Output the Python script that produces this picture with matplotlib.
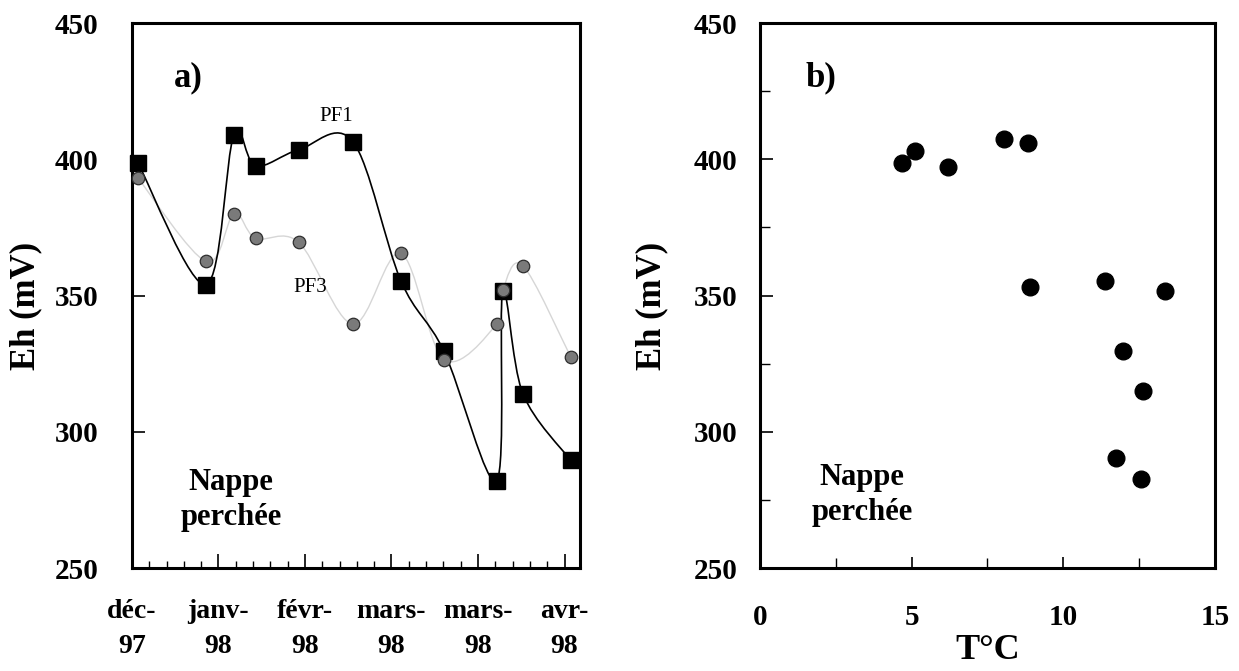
import matplotlib
matplotlib.use("Agg")
import matplotlib.pyplot as plt
from matplotlib.path import Path
from matplotlib.patches import PathPatch
from matplotlib.ticker import MultipleLocator
import numpy as np

# --- data ---
# days counted from the first axis tick (déc-97)
days = [2, 24, 33, 40, 54, 71.5, 87, 101, 118, 120, 126.5, 142]
eh_pf1 = [398.5, 354, 409, 397.5, 403.5, 406.5, 355.5, 329.5, 282, 351.5, 314, 289.5]
eh_pf3 = [393, 362.5, 380, 371, 369.5, 339.5, 365.5, 326.5, 339.5, 352, 361, 327.5]

date_ticks = [0, 28, 56, 84, 112, 140]
date_labels = ['déc-\n97', 'janv-\n98', 'févr-\n98', 'mars-\n98', 'mars-\n98', 'avr-\n98']

temp_c = [4.68, 5.11, 6.21, 8.06, 8.85, 8.89, 11.36, 11.96, 12.64, 13.34, 11.74, 12.55]
eh_nappe = [398.5, 403, 397, 407.5, 406, 353, 355.5, 329.5, 315, 351.5, 290.5, 282.5]

FONT = 'Liberation Serif'
plt.rcParams['font.family'] = [FONT, 'DejaVu Serif']
plt.rcParams['font.weight'] = 'bold'


def smooth_path(xs, ys):
    # bezier curve through the points, like a spreadsheet "smoothed line"
    pts = np.column_stack([xs, ys])
    n = len(pts)
    verts = [pts[0]]
    codes = [Path.MOVETO]
    for i in range(n - 1):
        p0 = pts[i - 1] if i > 0 else pts[i]
        p1 = pts[i]
        p2 = pts[i + 1]
        p3 = pts[i + 2] if i + 2 < n else pts[i + 1]
        c1 = p1 + (p2 - p0) / 6.0
        c2 = p2 - (p3 - p1) / 6.0
        verts += [c1, c2, p2]
        codes += [Path.CURVE4] * 3
    return Path(verts, codes)


def style_axes(ax, ypad):
    for sp in ax.spines.values():
        sp.set_linewidth(2.2)
    ax.set_ylim(250, 450)
    ax.yaxis.set_major_locator(MultipleLocator(50))
    ax.tick_params(axis='both', which='both', direction='in', width=1.2,
                   top=False, right=False)
    ax.tick_params(axis='y', which='major', length=9, pad=ypad, labelsize=21)
    for lab in ax.get_yticklabels():
        lab.set_fontweight('bold')


fig = plt.figure(figsize=(12.39, 6.71), dpi=100)

# ---------- a) ----------
ax1 = fig.add_axes([0.1065, 0.1535, 0.3616, 0.8122])
style_axes(ax1, 24)
ax1.set_xlim(0, 145)
ax1.set_xticks(date_ticks)
ax1.set_xticklabels(date_labels, fontsize=20, fontweight='bold', linespacing=1.55)
ax1.xaxis.set_minor_locator(MultipleLocator(5.6))
ax1.tick_params(axis='x', which='major', length=10, pad=22)
ax1.tick_params(axis='x', which='minor', length=5, width=1.0)

ax1.add_patch(PathPatch(smooth_path(days, eh_pf3), fill=False,
                        edgecolor='#d6d6d6', lw=1.0, zorder=2))
ax1.add_patch(PathPatch(smooth_path(days, eh_pf1), fill=False,
                        edgecolor='black', lw=1.2, zorder=3))
ax1.plot(days, eh_pf1, ls='none', marker='s', ms=12, color='black',
         zorder=4, clip_on=False)
ax1.plot(days, eh_pf3, ls='none', marker='o', ms=9, color='#7a7a7a',
         mec='#2e2e2e', mew=0.9, zorder=5, clip_on=False)

ax1.set_ylabel('Eh (mV)', fontsize=25, fontweight='bold')
ax1.yaxis.set_label_coords(-0.2, 0.48)
ax1.text(0.125, 0.90, 'a)', transform=ax1.transAxes, fontsize=25,
         fontweight='bold', ha='center', va='center')
ax1.text(0.455, 0.828, 'PF1', transform=ax1.transAxes, fontsize=15,
         fontweight='normal', ha='center', va='center')
ax1.text(0.397, 0.514, 'PF3', transform=ax1.transAxes, fontsize=15,
         fontweight='normal', ha='center', va='center')
ax1.text(0.221, 0.125, 'Nappe\nperchée', transform=ax1.transAxes, fontsize=22,
         fontweight='bold', ha='center', va='center', linespacing=1.3)

# ---------- b) ----------
ax2 = fig.add_axes([0.6134, 0.1535, 0.3672, 0.8122])
style_axes(ax2, 16)
ax2.set_xlim(0, 15)
ax2.xaxis.set_major_locator(MultipleLocator(5))
ax2.xaxis.set_minor_locator(MultipleLocator(2.5))
ax2.yaxis.set_minor_locator(MultipleLocator(25))
ax2.tick_params(axis='x', which='major', length=8, pad=26, labelsize=21)
ax2.tick_params(axis='both', which='minor', length=7, width=1.0)
for lab in ax2.get_xticklabels():
    lab.set_fontweight('bold')

ax2.plot(temp_c, eh_nappe, ls='none', marker='o', ms=12, color='black')

ax2.set_ylabel('Eh (mV)', fontsize=25, fontweight='bold')
ax2.yaxis.set_label_coords(-0.202, 0.48)
ax2.set_xlabel('T°C', fontsize=26, fontweight='bold', labelpad=2)
ax2.text(0.134, 0.90, 'b)', transform=ax2.transAxes, fontsize=25,
         fontweight='bold', ha='center', va='center')
ax2.text(0.224, 0.134, 'Nappe\nperchée', transform=ax2.transAxes, fontsize=22,
         fontweight='bold', ha='center', va='center', linespacing=1.3)

fig.savefig('out.png', dpi=100)
